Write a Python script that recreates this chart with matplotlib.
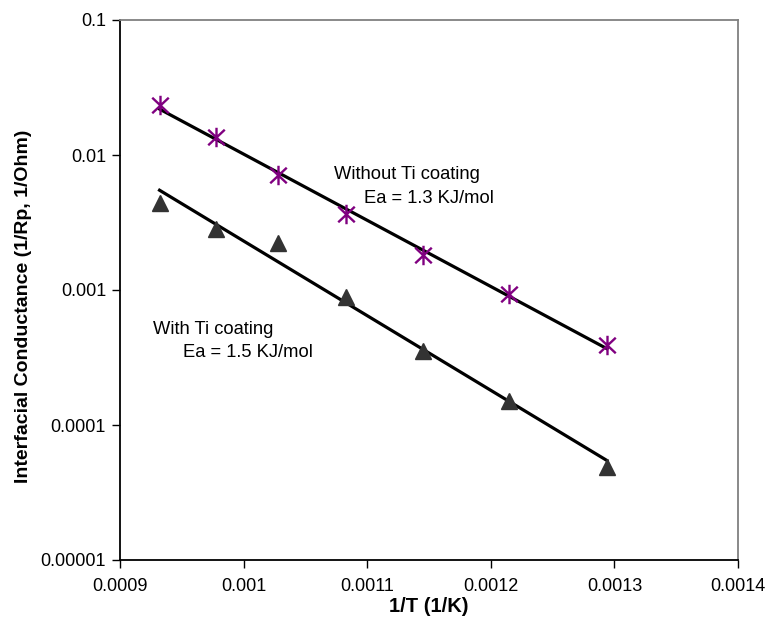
import numpy as np
import matplotlib
matplotlib.use("Agg")
import matplotlib.pyplot as plt
from matplotlib.path import Path
from matplotlib.ticker import FixedLocator, FixedFormatter

plt.rcParams['font.family'] = ['Liberation Sans', 'DejaVu Sans']

# Data (1/T in 1/K)
inv_T = [0.000932, 0.000978, 0.001028, 0.001083, 0.001145, 0.001215, 0.001294]
without_ti = [0.0234, 0.0136, 0.0071, 0.00366, 0.00182, 0.00093, 0.00039]
with_ti = [0.0044, 0.00283, 0.00223, 0.000887, 0.000353, 0.000151, 0.0000489]

x_ticks = [0.0009, 0.001, 0.0011, 0.0012, 0.0013, 0.0014]
x_tick_labels = ["0.0009", "0.001", "0.0011", "0.0012", "0.0013", "0.0014"]
y_ticks = [0.00001, 0.0001, 0.001, 0.01, 0.1]
y_tick_labels = ["0.00001", "0.0001", "0.001", "0.01", "0.1"]

fig = plt.figure(figsize=(7.68, 6.26), dpi=100)
ax = fig.add_axes([120/768, 1-560/626, (738-120)/768, (560-20)/626])

x = np.array(inv_T)
for ys in (without_ti, with_ti):
    p = np.polyfit(x, np.log10(ys), 1)
    xx = np.array([x.min(), x.max()])
    ax.plot(xx, 10**np.polyval(p, xx), color='black', lw=2.3, zorder=2)

# Excel-style star marker: an x with a vertical bar
star = Path([(-0.85, -0.8), (0.85, 0.8), (-0.85, 0.8), (0.85, -0.8), (0, -1), (0, 1)],
            [Path.MOVETO, Path.LINETO, Path.MOVETO, Path.LINETO, Path.MOVETO, Path.LINETO])

ax.plot(inv_T, with_ti, linestyle='none', marker='^', markersize=11,
        color='#333333', markeredgecolor='#333333', zorder=3)
ax.plot(inv_T, without_ti, linestyle='none', marker=star, markersize=14,
        color='#800080', markeredgecolor='#800080', markeredgewidth=1.7, zorder=3)

ax.set_yscale('log')
ax.set_xlim(0.0009, 0.0014)
ax.set_ylim(0.00001, 0.1)
ax.xaxis.set_major_locator(FixedLocator(x_ticks))
ax.xaxis.set_major_formatter(FixedFormatter(x_tick_labels))
ax.yaxis.set_major_locator(FixedLocator(y_ticks))
ax.yaxis.set_major_formatter(FixedFormatter(y_tick_labels))
ax.yaxis.set_minor_locator(FixedLocator([]))
ax.tick_params(axis='both', which='major', direction='out', length=6, width=1,
               labelsize=13, colors='black')
ax.tick_params(axis='x', pad=7)
ax.tick_params(axis='y', pad=4)

for s in ('left', 'bottom'):
    ax.spines[s].set_color('black')
    ax.spines[s].set_linewidth(1.3)
for s in ('top', 'right'):
    ax.spines[s].set_color('#808080')
    ax.spines[s].set_linewidth(1.3)

ax.set_xlabel('1/T (1/K)', fontsize=14.5, fontweight='bold')
ax.set_ylabel('Interfacial Conductance (1/Rp, 1/Ohm)', fontsize=14,
              fontweight='bold')
ax.xaxis.set_label_coords(0.5, -0.068)
ax.yaxis.set_label_coords(-0.143, 0.47)

ax.text(0.0010731, 0.00711, 'Without Ti coating', fontsize=13.2, va='center', ha='left')
ax.text(0.0010974, 0.0048, 'Ea = 1.3 KJ/mol', fontsize=13.2, va='center', ha='left')
ax.text(0.0009267, 0.000506, 'With Ti coating', fontsize=13.2, va='center', ha='left')
ax.text(0.000951, 0.000347, 'Ea = 1.5 KJ/mol', fontsize=13.2, va='center', ha='left')

fig.savefig('out.png', dpi=100)
